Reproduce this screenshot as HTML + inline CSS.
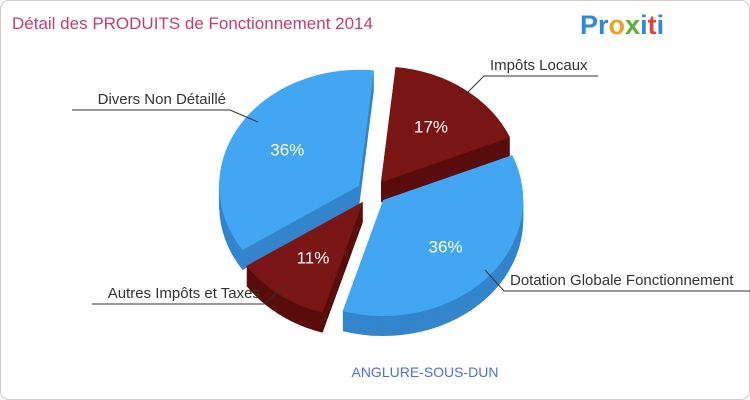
<!DOCTYPE html>
<html><head><meta charset="utf-8"><style>
body{margin:0;background:#fff;}
#wrap{position:relative;width:750px;height:400px;overflow:hidden;font-family:"Liberation Sans",sans-serif;}
</style></head><body>
<div id="wrap">
<svg id="svg" width="750" height="400">
<rect x="0.5" y="0.5" width="749" height="399" rx="8" fill="#fff" stroke="#ccc"/>
<text x="12" y="29" font-size="17" fill="#c63b73">Détail des PRODUITS de Fonctionnement 2014</text>
<text x="580" y="34" font-size="27" font-weight="bold"><tspan fill="#2e8ad8">Pr</tspan><tspan fill="#f0a020">o</tspan><tspan fill="#5cb030">x</tspan><tspan fill="#2e8ad8">i</tspan><tspan fill="#e04040">t</tspan><tspan fill="#2e8ad8">i</tspan></text>
<text x="425" y="377" font-size="14" fill="#4b6fe0" text-anchor="middle">ANGLURE-SOUS-DUN</text>
<g id="pie"></g>
<g id="labels"></g>
</svg>
</div>
<script>
const categories=["Impôts Locaux","Dotation Globale Fonctionnement","Autres Impôts et Taxes","Divers Non Détaillé"];
const values=[17,36,11,36];
const pctLabels=["17%","36%","11%","36%"];
const kinds=["red","blue","red","blue"];
const cx=372,cy=192,rx=140,ry=116,depth=20,explode=15,startDeg=6;
const col={red:{top:"#7a1515",side:"#5a0d0d"},blue:{top:"#42a6f2",side:"#3385cc"}};
const ns="http://www.w3.org/2000/svg";
const pie=document.getElementById('pie'),lab=document.getElementById('labels');
const total=values.reduce((a,b)=>a+b,0);
function pt(a,ox,oy,dy){return [ox+rx*Math.sin(a),oy-ry*Math.cos(a)+dy];}
function sector(a0,a1,ox,oy,dy){
  const p0=pt(a0,ox,oy,dy),p1=pt(a1,ox,oy,dy);
  const large=(a1-a0)>Math.PI?1:0;
  return `M${ox},${oy+dy}L${p0[0]},${p0[1]}A${rx},${ry} 0 ${large} 1 ${p1[0]},${p1[1]}Z`;
}
const off=startDeg*Math.PI/180;
let acc=0;const slices=[];
values.forEach((v,i)=>{const a0=off+acc/total*2*Math.PI;acc+=v;const a1=off+acc/total*2*Math.PI;slices.push({i,a0,a1});});
const order=[3,0,2,1];
order.forEach(i=>{
  const s=slices[i],m=(s.a0+s.a1)/2;
  const ox=cx+explode*Math.sin(m),oy=cy-explode*Math.cos(m)*0.8;
  const g=document.createElementNS(ns,'g');
  
  
  for(let d=depth;d>0;d-=1){
    const p=document.createElementNS(ns,'path');
    p.setAttribute('d',sector(s.a0,s.a1,ox,oy,d));p.setAttribute('fill',col[kinds[i]].side);
    g.appendChild(p);
  }
  const t=document.createElementNS(ns,'path');
  t.setAttribute('d',sector(s.a0,s.a1,ox,oy,0));t.setAttribute('fill',col[kinds[i]].top);
  g.appendChild(t);
  const tp=pt(m,ox,oy,0);
  const tx=ox+(tp[0]-ox)*0.6,ty=oy+(tp[1]-oy)*0.6;
  const txt=document.createElementNS(ns,'text');
  txt.setAttribute('x',tx);txt.setAttribute('y',ty+6);txt.setAttribute('text-anchor','middle');
  txt.setAttribute('font-size','17');txt.setAttribute('fill','#fff');
  txt.textContent=pctLabels[i];
  
  
  g.appendChild(txt);
  pie.appendChild(g);
});
const callouts=[
  {i:0,tx:490,ty:70,lx:598,anchor:"start",ex:465,ey:95},
  {i:1,tx:510,ty:285,lx:750,anchor:"start",ex:485,ey:270},
  {i:2,tx:260,ty:298,lx:92,anchor:"end",ex:285,ey:285},
  {i:3,tx:226,ty:104,lx:72,anchor:"end",ex:258,ey:122}
];
callouts.forEach(c=>{
  const line=document.createElementNS(ns,'polyline');
  const bx=c.anchor==="start"?c.tx-6:c.tx+4;
  line.setAttribute('points',`${c.ex},${c.ey} ${bx},${c.ty+6} ${c.lx},${c.ty+6}`);
  line.setAttribute('fill','none');line.setAttribute('stroke','#333');line.setAttribute('stroke-width','1');
  
  
  lab.appendChild(line);
  const t=document.createElementNS(ns,'text');
  t.setAttribute('x',c.tx);t.setAttribute('y',c.ty);
  t.setAttribute('text-anchor',c.anchor);t.setAttribute('font-size','15');t.setAttribute('fill','#333');
  t.textContent=categories[c.i];
  
  
  lab.appendChild(t);
});
</script>
</body></html>
